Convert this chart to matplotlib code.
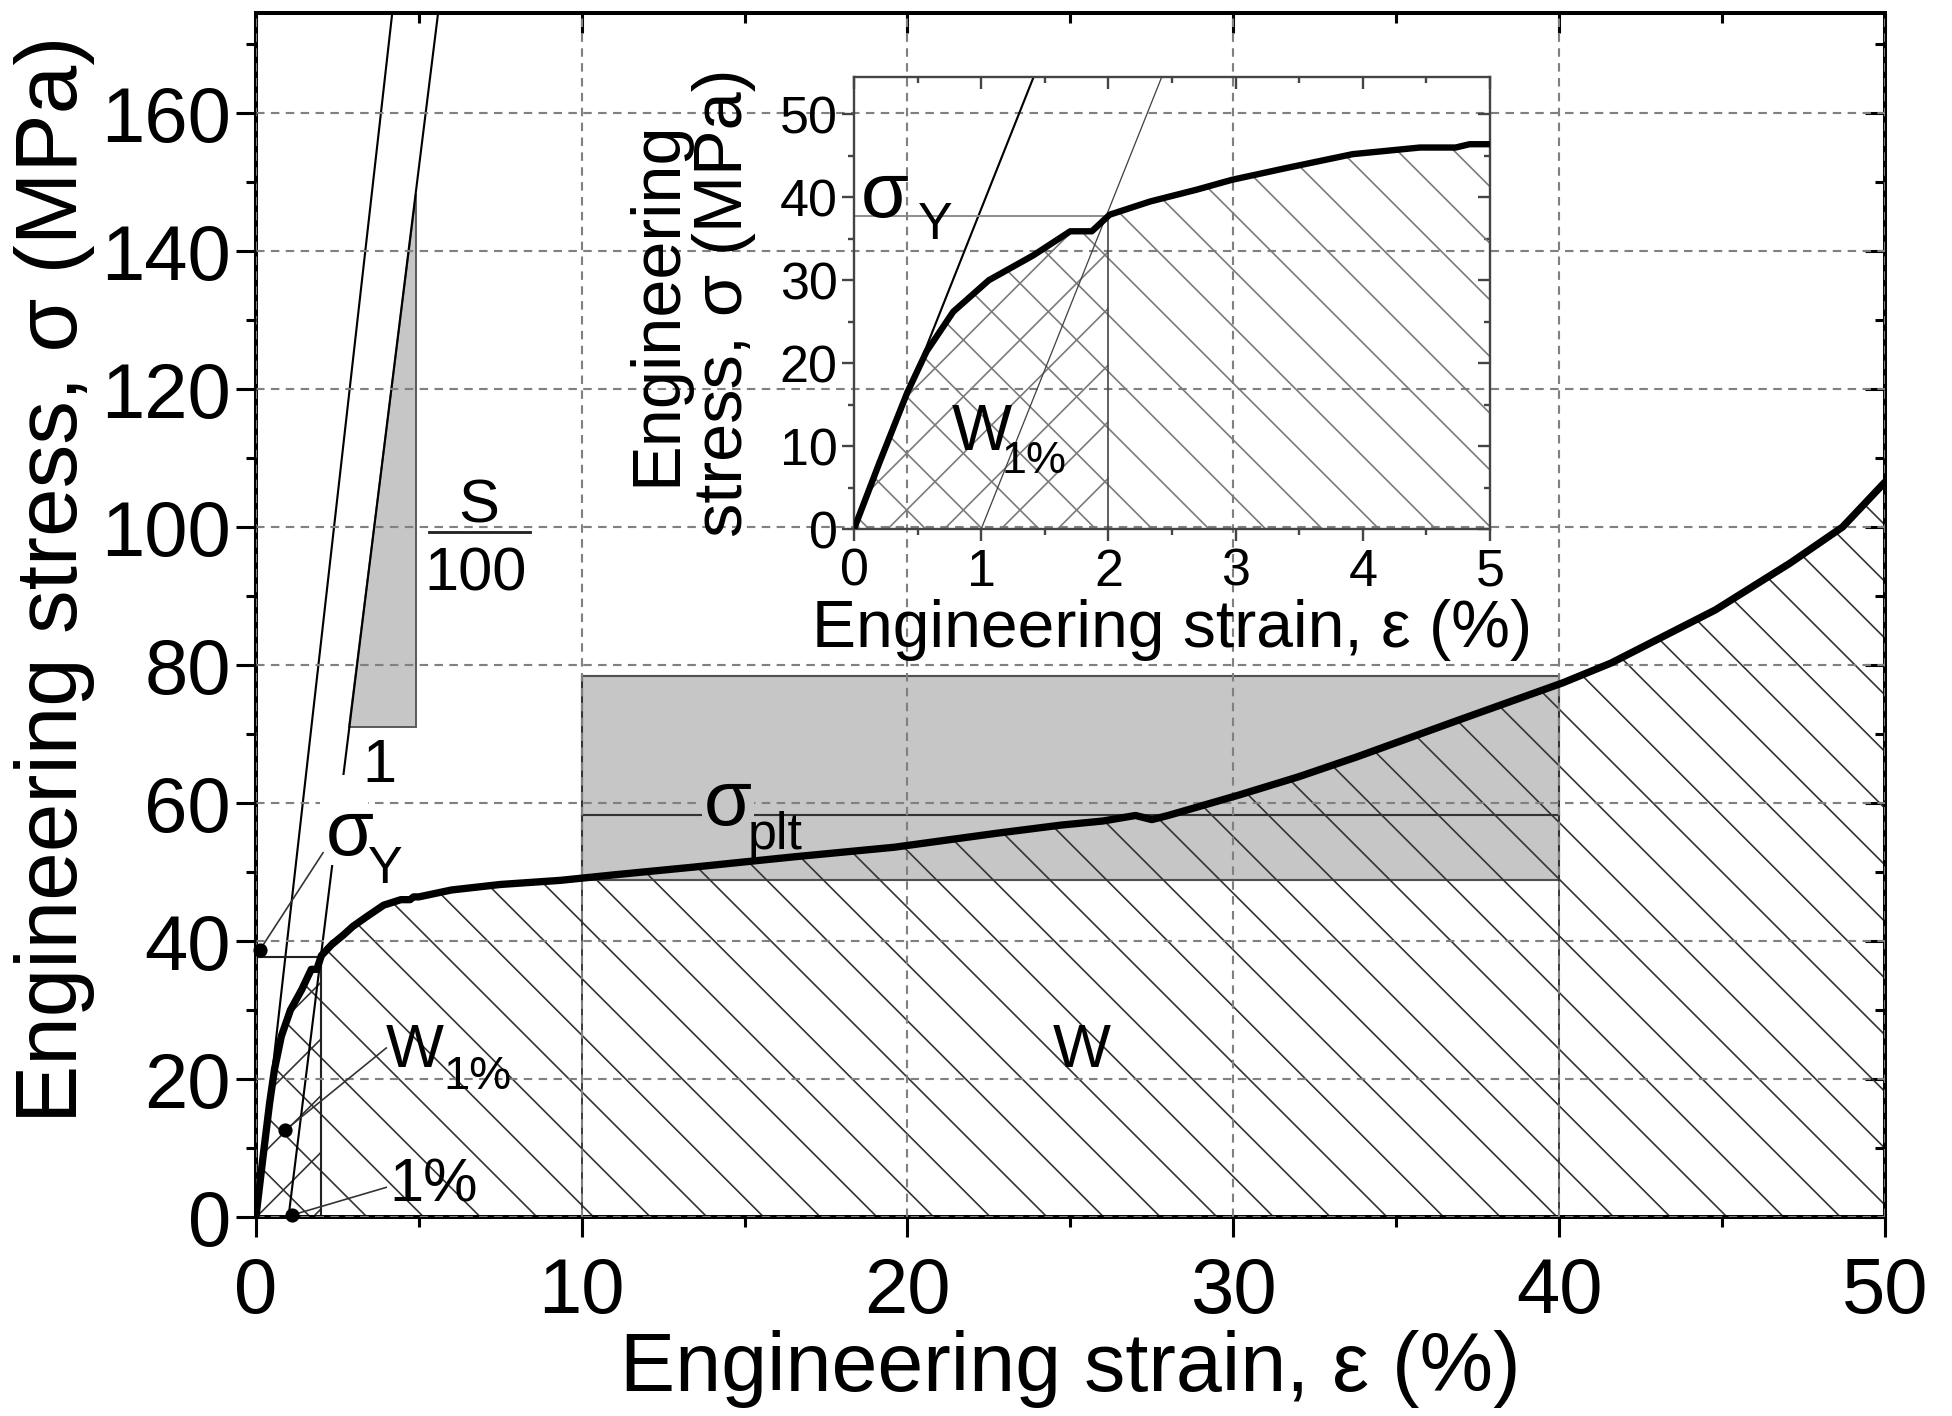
import numpy as np
import matplotlib.pyplot as plt
from matplotlib.patches import Rectangle, Polygon
from matplotlib.ticker import MultipleLocator

# ---------------- data ----------------
strain = np.array([0, 0.2, 0.42, 0.57, 0.78, 1.06, 1.41, 1.7, 1.87, 2.01, 2.33, 2.69,
                   2.97, 3.39, 3.92, 4.45, 4.73, 4.84, 5.0, 6.0, 7.5, 9.35, 11, 13.4,
                   16.5, 19.6, 22.7, 24.7, 26, 27, 27.5, 28, 30.2, 32, 33.8, 36.9,
                   40.1, 41.6, 44.8, 47.1, 48.7, 50])
stress = np.array([0, 8, 16.5, 21.4, 26.2, 30, 33, 35.9, 35.9, 37.9, 39.5, 40.9,
                   42.1, 43.5, 45.2, 46, 46, 46.4, 46.4, 47.4, 48.2, 48.8, 49.6, 50.7,
                   52.2, 53.6, 55.6, 56.8, 57.4, 58.2, 57.6, 58.2, 61.2, 63.8, 66.7, 72,
                   77.4, 80.3, 88, 94.8, 100, 106.5])

# elastic lines (slope in MPa per %)
slope_main = 41.7
slope_offset = 38.0
slope_inset = 38.6
slope_inset_offset = 38.4
offset_strain = 1.0
sigma_y = 37.7
eps_y = 2.0

# plateau box
box_x = [10, 40]
box_stress = [48.8, 78.4]
sigma_plt = 58.2

# slope triangle
tri_base_stress = 71
tri_right_strain = 4.9

# leader dots and their label ends
dot_x = [0.12, 0.9, 1.12]
dot_y = [38.7, 12.6, 0.3]
lead_x = [2.06, 4.0, 4.0]
lead_y = [52.8, 24.5, 4.3]

DPI = 170
plt.rcParams['font.family'] = ['Liberation Sans', 'DejaVu Sans']
plt.rcParams['hatch.linewidth'] = 0.7


def under_curve(x0, x1):
    m = (strain > x0) & (strain < x1)
    xs = np.r_[x0, x0, strain[m], x1, x1]
    ys = np.r_[0, np.interp(x0, strain, stress), stress[m], np.interp(x1, strain, stress), 0]
    return np.column_stack([xs, ys])


def mirror_ticks(a, xmaj, xmin, ymaj, ymin, lmaj, lmin, w, color):
    top = a.secondary_xaxis('top')
    top.xaxis.set_major_locator(MultipleLocator(xmaj))
    top.xaxis.set_minor_locator(MultipleLocator(xmin))
    top.tick_params(which='both', direction='in', labeltop=False, width=w, color=color)
    top.tick_params(which='major', length=lmaj)
    top.tick_params(which='minor', length=lmin)
    top.spines['top'].set_visible(False)
    right = a.secondary_yaxis('right')
    right.yaxis.set_major_locator(MultipleLocator(ymaj))
    right.yaxis.set_minor_locator(MultipleLocator(ymin))
    right.tick_params(which='both', direction='in', labelright=False, width=w, color=color)
    right.tick_params(which='major', length=lmaj)
    right.tick_params(which='minor', length=lmin)
    right.spines['right'].set_visible(False)


fig = plt.figure(figsize=(1952 / DPI, 1416 / DPI), dpi=DPI)

# ======================= main plot =======================
ax = fig.add_axes([0.1311, 0.1405, 0.8345, 0.8503])
ax.set_xlim(0, 50)
ax.set_ylim(0, 174.5)
ax.set_axisbelow(False)
ax.grid(True, which='major', color='#808080', lw=0.9, ls=(0, (4, 3)))

# plateau box + hatch under the curve
ax.add_patch(Rectangle((box_x[0], box_stress[0]), box_x[1] - box_x[0],
                       box_stress[1] - box_stress[0], fc='#c6c6c6', ec='#505050',
                       lw=0.9, zorder=1.1))
ax.add_patch(Polygon(under_curve(0, 50), closed=True, fc='none', ec='#333333',
                     lw=0, hatch='\\', zorder=1.5))
ax.add_patch(Polygon(under_curve(0, eps_y), closed=True, fc='none', ec='#333333',
                     lw=0, hatch='/', zorder=1.5))

# elastic lines
ax.plot([0, 180 / slope_main], [0, 180], color='k', lw=0.9, zorder=2)
ax.plot([offset_strain, offset_strain + 180 / slope_offset], [0, 180], color='k', lw=0.9, zorder=2)

# slope triangle
tri_left = offset_strain + tri_base_stress / slope_offset
tri_top = slope_offset * (tri_right_strain - offset_strain)
ax.add_patch(Polygon([[tri_left, tri_base_stress], [tri_right_strain, tri_base_stress],
                      [tri_right_strain, tri_top]], closed=True, fc='#c6c6c6',
                     ec='#555555', lw=0.8, zorder=1.8))

# yield lines
y_at_eps = np.interp(eps_y, strain, stress)
ax.plot([0, eps_y], [sigma_y, sigma_y], color='#222222', lw=0.9, zorder=2)
ax.plot([eps_y, eps_y], [0, y_at_eps], color='#222222', lw=0.9, zorder=2)
for xb in box_x:
    ax.plot([xb, xb], [0, box_stress[1]], color='#333333', lw=0.8, zorder=2)
ax.plot(box_x, [sigma_plt, sigma_plt], color='#333333', lw=0.9, zorder=2)

# white patch behind sigma_Y label
ax.add_patch(Rectangle((1.97, 51), 1.48, 13, fc='white', ec='none', zorder=2.6))

# curve
ax.plot(strain, stress, color='k', lw=3.1, zorder=3, solid_capstyle='round')

# leaders and dots
for x0, y0, x1, y1 in zip(dot_x, dot_y, lead_x, lead_y):
    ax.plot([x0, x1], [y0, y1], color='#333333', lw=0.7, zorder=3)
ax.plot(dot_x, dot_y, 'o', color='k', ms=5, zorder=4, clip_on=False)

# labels
ax.text(2.15, 52.4, 'σ', fontsize=33, ha='left', va='baseline', zorder=5)
ax.text(3.45, 48.4, 'Y', fontsize=22, ha='left', va='baseline', zorder=5)
ax.text(4.0, 21.7, 'W', fontsize=26, ha='left', va='baseline', zorder=5)
ax.text(5.75, 18.6, '1%', fontsize=20, ha='left', va='baseline', zorder=5)
ax.text(4.1, 2.3, '1%', fontsize=26, ha='left', va='baseline', zorder=5)
ax.text(25.35, 21.7, 'W', fontsize=26, ha='center', va='baseline', zorder=5)
ax.text(3.8, 63.0, '1', fontsize=26, ha='center', va='baseline', zorder=5)
ax.text(6.85, 100.6, 'S', fontsize=26, ha='center', va='baseline', zorder=5)
ax.plot([5.3, 8.4], [99.3, 99.3], color='#222222', lw=1.2, zorder=4)
ax.text(6.75, 90.8, '100', fontsize=26, ha='center', va='baseline', zorder=5)
ax.text(13.75, 56.8, 'σ', fontsize=33, ha='left', va='baseline', zorder=5,
        bbox=dict(fc='#c6c6c6', ec='none', pad=1))
ax.text(15.1, 53.3, 'plt', fontsize=22, ha='left', va='baseline', zorder=5)

ax.xaxis.set_major_locator(MultipleLocator(10))
ax.xaxis.set_minor_locator(MultipleLocator(5))
ax.yaxis.set_major_locator(MultipleLocator(20))
ax.yaxis.set_minor_locator(MultipleLocator(10))
ax.tick_params(which='both', direction='out', width=1.3, labelsize=33, top=False, right=False)
ax.tick_params(which='major', length=8.5)
ax.tick_params(which='minor', length=4.2)
ax.tick_params(axis='x', pad=8)
ax.tick_params(axis='y', pad=2)
for s in ax.spines.values():
    s.set_linewidth(1.7)
mirror_ticks(ax, 10, 5, 20, 10, 8.5, 4.2, 1.3, 'k')

ax.set_xlabel('Engineering strain, ε (%)', fontsize=35)
ax.set_ylabel('Engineering stress, σ (MPa)', fontsize=37)
ax.xaxis.set_label_coords(0.5, -0.094)
ax.yaxis.set_label_coords(-0.099, 0.53)

# ======================= inset =======================
axin = fig.add_axes([0.4375, 0.6264, 0.3258, 0.3192])
axin.set_facecolor('none')
axin.set_xlim(0, 5)
axin.set_ylim(0, 54.5)

axin.add_patch(Polygon(under_curve(0, 5), closed=True, fc='none', ec='#7a7a7a',
                       lw=0, hatch='\\', zorder=1.5))
axin.add_patch(Polygon(under_curve(0, eps_y), closed=True, fc='none', ec='#7a7a7a',
                       lw=0, hatch='/', zorder=1.5))
axin.plot([0, 60 / slope_inset], [0, 60], color='k', lw=0.9, zorder=2)
axin.plot([offset_strain, offset_strain + 60 / slope_inset_offset], [0, 60],
          color='#444444', lw=0.55, zorder=2)
axin.plot([0, eps_y], [sigma_y, sigma_y], color='#8a8a8a', lw=0.8, zorder=2)
axin.plot([eps_y, eps_y], [0, sigma_y], color='#444444', lw=0.7, zorder=2)
axin.plot(strain, stress, color='k', lw=2.7, zorder=3)

axin.text(0.05, 37.6, 'σ', fontsize=33, ha='left', va='baseline', zorder=5)
axin.text(0.5, 35.0, 'Y', fontsize=22, ha='left', va='baseline', zorder=5)
axin.text(0.77, 9.5, 'W', fontsize=27, ha='left', va='baseline', zorder=5)
axin.text(1.16, 6.8, '1%', fontsize=19, ha='left', va='baseline', zorder=5)

axin.xaxis.set_major_locator(MultipleLocator(1))
axin.xaxis.set_minor_locator(MultipleLocator(0.5))
axin.yaxis.set_major_locator(MultipleLocator(10))
axin.yaxis.set_minor_locator(MultipleLocator(5))
axin.tick_params(which='both', direction='out', width=1.0, color='#444444',
                 labelsize=22, top=False, right=False)
axin.tick_params(which='major', length=5)
axin.tick_params(which='minor', length=2.5)
axin.tick_params(axis='x', pad=3)
axin.tick_params(axis='y', pad=2)
for s in axin.spines.values():
    s.set_linewidth(1.0)
    s.set_color('#444444')
mirror_ticks(axin, 1, 0.5, 10, 5, 5, 2.5, 1.0, '#444444')

axin.set_xlabel('Engineering strain, ε (%)', fontsize=28, labelpad=1)
axin.set_ylabel('Engineering\nstress, σ (MPa)', fontsize=29, labelpad=10, linespacing=1.05)

fig.savefig('out.png', dpi=DPI)
